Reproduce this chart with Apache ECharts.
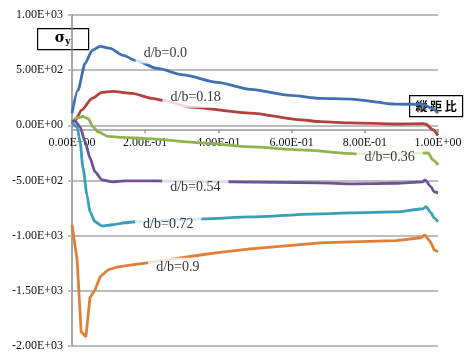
<!DOCTYPE html>
<html>
<head>
<meta charset="utf-8">
<script src="https://cdn.jsdelivr.net/npm/echarts@6/dist/echarts.min.js"></script>
<style>
html,body{margin:0;padding:0;background:#fff;}
#c{width:471px;height:360px;}
</style>
</head>
<body>
<div id="c"></div>
<script>
// ---- data ----
const seriesNames = ['d/b=0.0', 'd/b=0.18', 'd/b=0.36', 'd/b=0.54', 'd/b=0.72', 'd/b=0.9'];
const seriesColors = ['#3f71b0', '#b3403c', '#8eb34f', '#6f5196', '#3b9db6', '#e07f38'];

const xs0 = [0, 0.016, 0.036, 0.055, 0.077, 0.104, 0.14, 0.173, 0.233, 0.304, 0.397, 0.488, 0.597, 0.679, 0.762, 0.885, 0.96, 0.986, 1.0];
const ys0 = [110, 317, 562, 680, 716, 698, 634, 589, 516, 457, 390, 326, 272, 245, 238, 192, 190, 150, 110];

const xs1 = [0, 0.008, 0.027, 0.055, 0.082, 0.110, 0.164, 0.219, 0.249, 0.323, 0.488, 0.625, 0.679, 0.762, 0.885, 0.959, 0.967, 0.986, 1.0];
const ys1 = [20, 45, 140, 245, 299, 308, 290, 245, 226, 165, 111, 50, 33, 22, 12, 16, 10, -40, -92];

const xs2 = [0, 0.014, 0.030, 0.044, 0.058, 0.071, 0.099, 0.137, 0.205, 0.351, 0.488, 0.625, 0.775, 0.9, 0.973, 0.986, 1.0];
const ys2 = [30, 70, 80, 60, -14, -60, -100, -110, -120, -159, -195, -222, -258, -258, -249, -313, -358];

const xs3 = [0, 0.008, 0.022, 0.036, 0.049, 0.063, 0.082, 0.110, 0.145, 0.227, 0.433, 0.679, 0.762, 0.885, 0.959, 0.964, 0.981, 0.989, 1.0];
const ys3 = [32, 41, -14, -150, -294, -421, -494, -512, -503, -503, -512, -521, -530, -525, -512, -494, -557, -602, -612];

const xs4 = [0, 0.014, 0.022, 0.030, 0.041, 0.049, 0.063, 0.082, 0.110, 0.145, 0.173, 0.359, 0.488, 0.679, 0.762, 0.885, 0.959, 0.967, 0.981, 0.989, 1.0];
const ys4 = [23, -14, -150, -385, -630, -784, -874, -911, -901, -883, -874, -847, -829, -802, -793, -785, -756, -738, -793, -838, -874];

const xs5 = [0, 0.014, 0.025, 0.038, 0.049, 0.063, 0.077, 0.099, 0.126, 0.164, 0.205, 0.356, 0.392, 0.488, 0.679, 0.762, 0.885, 0.953, 0.964, 0.981, 0.989, 1.0];
const ys5 = [-901, -1219, -1871, -1916, -1563, -1490, -1373, -1309, -1282, -1264, -1246, -1173, -1155, -1119, -1065, -1056, -1045, -1019, -992, -1065, -1128, -1146];

const labelX = [0.255, 0.338, 0.868, 0.337, 0.263, 0.289];
const labelY = [650, 250, -294, -566, -901, -1291];

const xTickValues = [0, 0.2, 0.4, 0.6, 0.8, 1.0];
const xTickLabels = ['0.00E+00', '2.00E-01', '4.00E-01', '6.00E-01', '8.00E-01', '1.00E+00'];
const yTickValues = [-2000, -1500, -1000, -500, 0, 500, 1000];
const yTickLabels = ['-2.00E+03', '-1.50E+03', '-1.00E+03', '-5.00E+02', '0.00E+00', '5.00E+02', '1.00E+03'];

const yTitle = 'σ';
const yTitleSub = 'y';
const xTitle = '縦 距 比';

// ---- build ----
const xsAll = [xs0, xs1, xs2, xs3, xs4, xs5];
const ysAll = [ys0, ys1, ys2, ys3, ys4, ys5];

function lookup(vals, labels, v) {
  for (let i = 0; i < vals.length; i++) if (Math.abs(vals[i] - v) < 1e-6) return labels[i];
  return '';
}

const lineSeries = xsAll.map((xs, i) => ({
  name: seriesNames[i],
  type: 'line',
  data: xs.map((x, j) => [x, ysAll[i][j]]),
  showSymbol: false,
  symbol: 'none',
  smooth: i === 5 ? false : 0.25,
  smoothMonotone: 'x',
  lineStyle: { color: seriesColors[i], width: 2.8 },
  z: 3,
  silent: true
}));

const labelSeries = {
  type: 'scatter',
  z: 10,
  symbolSize: 1,
  itemStyle: { color: 'rgba(0,0,0,0)' },
  clip: false,
  silent: true,
  data: labelX.map((x, i) => ({ value: [x, labelY[i]], name: seriesNames[i] })),
  label: {
    show: true,
    position: 'inside',
    formatter: p => p.name,
    color: '#000',
    fontFamily: 'Liberation Serif',
    fontSize: 14,
    backgroundColor: '#fff',
    padding: [3, 8, 3, 8],
    lineHeight: 14
  }
};

const chart = echarts.init(document.getElementById('c'), null, { renderer: 'canvas' });
chart.setOption({
  animation: false,
  backgroundColor: '#fff',
  grid: { left: 72, right: 33, top: 15, bottom: 14, containLabel: false },
  xAxis: {
    type: 'value',
    position: 'bottom',
    min: 0, max: 1, interval: 0.2,
    axisLine: { show: true, onZero: false, lineStyle: { color: '#9a9a9a', width: 1.5 } },
    axisTick: { show: true, length: 4, lineStyle: { color: '#9a9a9a', width: 1.5 } },
    splitLine: { show: false },
    axisLabel: {
      margin: 8,
      color: '#111',
      fontFamily: 'Liberation Serif',
      fontSize: 12,
      formatter: v => lookup(xTickValues, xTickLabels, v)
    }
  },
  yAxis: {
    type: 'value',
    min: -2000, max: 1000, interval: 500,
    axisLine: { show: true, onZero: false, lineStyle: { color: '#8a8a8a', width: 1.5 } },
    axisTick: { show: true, length: 4, lineStyle: { color: '#bdbdbd', width: 2 } },
    splitLine: { show: true, lineStyle: { color: '#bdbdbd', width: 2 } },
    axisLabel: {
      margin: 9,
      color: '#111',
      fontFamily: 'Liberation Serif',
      fontSize: 12,
      formatter: v => lookup(yTickValues, yTickLabels, v)
    }
  },
  series: lineSeries.concat([labelSeries]),
  graphic: [
    {
      type: 'group', left: 37, top: 28, z: 20,
      children: [
        { type: 'rect', shape: { x: 0, y: 0, width: 51, height: 21 }, style: { fill: '#fff', stroke: '#000', lineWidth: 1.2 } },
        { type: 'text', x: 25, y: 10, style: {
            text: '{a|' + yTitle + '}{b|' + yTitleSub + '}',
            align: 'center', verticalAlign: 'middle',
            rich: {
              a: { fontFamily: 'DejaVu Serif', fontWeight: 'bold', fontSize: 14, fill: '#000' },
              b: { fontFamily: 'DejaVu Serif', fontWeight: 'bold', fontSize: 9, fill: '#000', padding: [7, 0, 0, 0] }
            }
        } }
      ]
    },
    {
      type: 'group', left: 409, top: 95, z: 20,
      children: [
        { type: 'rect', shape: { x: 0, y: 0, width: 53, height: 21 }, style: { fill: '#fff', stroke: '#000', lineWidth: 1.2 } },
        { type: 'text', x: 26.5, y: 11, style: {
            text: xTitle, align: 'center', verticalAlign: 'middle',
            fontFamily: 'Noto Sans CJK JP', fontSize: 12, fontWeight: 'bold', fill: '#000'
        } }
      ]
    }
  ]
});

// place the x axis on y = 0 using the library's own y scale
const yZeroPx = chart.convertToPixel({ yAxisIndex: 0 }, 0);
const yMinPx = chart.convertToPixel({ yAxisIndex: 0 }, yTickValues[0]);
chart.setOption({ xAxis: { offset: yZeroPx - yMinPx } });
</script>
</body>
</html>
